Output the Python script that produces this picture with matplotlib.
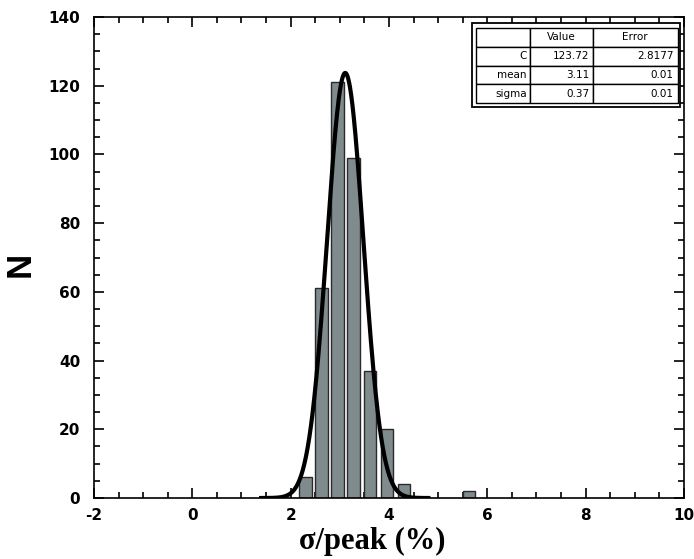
import numpy as np
import matplotlib
matplotlib.use("Agg")
import matplotlib.pyplot as plt
from matplotlib.ticker import MultipleLocator
from matplotlib.patches import Rectangle

plt.rcParams["axes.unicode_minus"] = False

# Histogram data (bin centers and counts)
bin_centers = [2.30, 2.63, 2.95, 3.28, 3.62, 3.96, 4.30, 5.63]
counts = [6, 61, 121, 99, 37, 20, 4, 2]
bar_width = 0.25

# Gaussian fit parameters
fit_C = 123.72
fit_mean = 3.11
fit_sigma = 0.37

# Fit table
table_cols = ["", "Value", "Error"]
table_rows = [["C", "123.72", "2.8177"],
              ["mean", "3.11", "0.01"],
              ["sigma", "0.37", "0.01"]]

fig = plt.figure(figsize=(6.94, 5.59), dpi=100)
ax = fig.add_axes([0.1354, 0.1091, 0.8502, 0.8605])

ax.bar(bin_centers, counts, width=bar_width, color="#7f8b8d",
       edgecolor="#2a2a2a", linewidth=1.0, zorder=2)

x = np.linspace(1.4, 4.8, 400)
y = fit_C * np.exp(-0.5 * ((x - fit_mean) / fit_sigma) ** 2)
ax.plot(x, y, color="black", linewidth=3.0, zorder=3)

ax.set_xlim(-2, 10)
ax.set_ylim(0, 140)
ax.xaxis.set_major_locator(MultipleLocator(2))
ax.xaxis.set_minor_locator(MultipleLocator(0.5))
ax.yaxis.set_major_locator(MultipleLocator(20))
ax.yaxis.set_minor_locator(MultipleLocator(5))
ax.tick_params(which="both", direction="in", top=True, right=True, width=1.2)
ax.tick_params(which="major", length=7)
ax.tick_params(which="minor", length=4)
ax.tick_params(axis="x", which="major", pad=7)
ax.tick_params(axis="y", which="major", pad=10)
for lab in ax.get_xticklabels() + ax.get_yticklabels():
    lab.set_fontweight("bold")
    lab.set_fontsize(11)
    lab.set_family("DejaVu Sans")
for s in ax.spines.values():
    s.set_linewidth(1.2)

ax.set_xlabel("σ/peak (%)", fontsize=22, fontweight="bold",
              family="Liberation Serif", va="center")
ax.xaxis.set_label_coords(0.471, -0.091)
ax.set_ylabel("N", fontsize=25, fontweight="bold",
              family="Liberation Sans", va="center")
ax.yaxis.set_label_coords(-0.125, 0.486)

# fit table
tab = ax.table(cellText=table_rows, colLabels=table_cols,
               cellLoc="right", colWidths=[54, 63, 85],
               bbox=[0.647, 0.821, 0.342, 0.156], zorder=6)
tab.auto_set_font_size(False)
for (r, c), cell in tab.get_celld().items():
    cell.set_linewidth(1.0)
    cell.set_edgecolor("black")
    cell.set_facecolor("white")
    cell.get_text().set_fontsize(7.5)
    cell.get_text().set_family("DejaVu Sans")
    cell.PAD = 0.05
# outer frame of the table
ax.add_patch(Rectangle((0.640, 0.813), 0.354, 0.175, transform=ax.transAxes,
                       facecolor="white", edgecolor="black", linewidth=1.3,
                       zorder=5, clip_on=False))

fig.savefig("out.png", dpi=100)
